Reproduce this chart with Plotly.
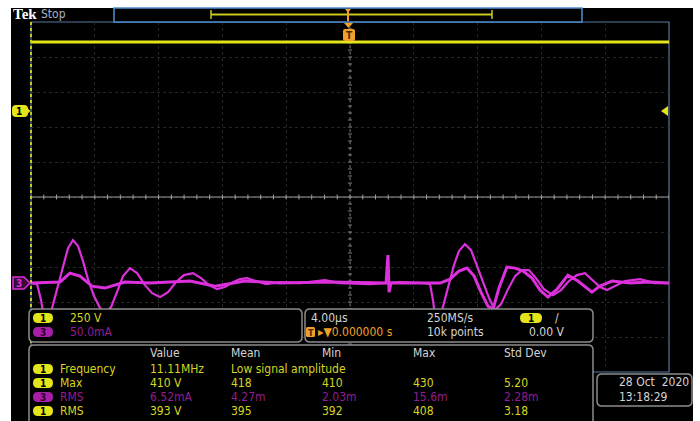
import numpy as np
import plotly.graph_objects as go

W, H = 700, 421

# ---------------- data ----------------
# Channel 1 (yellow), volts
ch1_time_us = [-20, -16, -12, -8, -4, 0, 4, 8, 12, 16, 20]
ch1_volts = [492, 492, 492, 492, 492, 492, 492, 492, 492, 492, 492]

# Channel 3 (magenta), acquisition A, mA
ch3a_time_us = [-20.0, -19.62, -19.37, -19.06, -18.68, -18.31, -18.0, -17.68, -17.37, -17.05,
                -16.74, -16.43, -16.05, -15.67, -15.36, -14.98, -14.61, -14.23, -13.79, -13.35,
                -12.85, -12.41, -11.91, -11.41, -10.91, -10.41, -9.84, -9.34, -8.84, -8.34,
                -7.84, -7.34, -6.90, -6.46, -5.89, -5.27, -4.39, -3.13, -1.57, -0.63,
                1.25, 3.14, 4.70, 5.02, 5.20, 5.45, 5.77, 6.15, 6.52, 6.83,
                7.21, 7.59, 7.96, 8.34, 8.72, 9.09, 9.47, 9.91, 10.35, 10.78,
                11.22, 11.66, 12.16, 12.73, 13.23, 13.73, 14.23, 14.73, 15.24, 15.68,
                16.11, 16.61, 17.24, 18.18, 19.12, 20.0]
ch3a_mA = [0, -1.4, -24.3, -67, -35.7, -2.9, 25.7, 50, 61.4, 52.9,
           31.4, 5.7, -18.6, -35.7, -42.9, -34.3, -12.9, 10, 21.4, 14.3,
           -2.9, -14.3, -20, -12.9, 1.4, 11.4, 14.3, 7.1, -2.9, -8.6,
           -5.7, 1.4, 5.7, 7.1, 2.9, -1.4, 1.4, 0, 4.3, 0,
           -1.4, 1.4, 0, -1.4, -24.3, -67, -38.6, -7.1, 25.7, 45.7,
           55.7, 47.1, 24.3, 0, -21.4, -38.6, -30, -8.6, 10, 18.6,
           18.6, 7.1, -8.6, -17.1, -10, 2.9, 11.4, 14.3, 4.3, -5.7,
           -10, -4.3, 2.9, 5.7, 0, 0]

# Channel 3 (magenta), acquisition B, mA
ch3b_time_us = [-20.0, -18.18, -17.56, -16.93, -16.18, -15.36, -14.11, -12.54, -10.03, -8.47,
                -6.58, -4.39, -1.25, 2.26, 2.38, 2.45, 2.57, 5.65, 6.27, 6.83,
                7.34, 7.78, 8.21, 8.65, 8.97, 9.34, 9.84, 10.35, 10.85, 11.41,
                11.91, 12.41, 12.98, 13.66, 14.29, 14.73, 15.17, 15.67, 16.43, 17.55,
                18.81, 20.0]
ch3b_mA = [0, 1.4, 14.3, 10, -4.3, -7.1, 1.4, 0, 2.9, -4.3,
           2.9, 0, 1.4, 0, 40, -12.9, 0, 0, 5.7, 17.1,
           21.4, 10, -12.9, -32.9, -37.1, -7.1, 22.9, 21.4, 17.1, 7.1,
           -10, -20, -8.6, 11.4, 2.9, -5.7, -12.9, -4.3, 2.9, 0,
           1.4, 0]

CH1_SCALE = 250.0   # V/div
CH3_SCALE = 50.0    # mA/div
CH1_POS = 2.46      # div
CH3_POS = -2.46     # div

ch1_scale_label = "250 V"
ch3_scale_label = "50.0mA"
timebase_label = "4.00µs"
sample_rate_label = "250MS/s"
record_label = "10k points"
trig_pos_label = "▸▼0.000000 s"
trig_level_label = "0.00 V"
date_label = "28 Oct  2020"
time_label = "13:18:29"

meas_headers = ["Value", "Mean", "Min", "Max", "Std Dev"]
meas_channels = ["1", "1", "3", "1"]
meas_names = ["Frequency", "Max", "RMS", "RMS"]
meas_value = ["11.11MHz", "410 V", "6.52mA", "393 V"]
meas_mean = ["Low signal amplitude", "418", "4.27m", "395"]
meas_min = ["", "410", "2.03m", "392"]
meas_max = ["", "430", "15.6m", "408"]
meas_std = ["", "5.20", "2.28m", "3.18"]

# ---------------- style ----------------
YEL = "#e4e41a"
YEL_TXT = "#d6d622"
MAG = "#dc30dc"
MAG_TXT = "#931c93"
GRAY_TXT = "#d4d4d4"
BORDER = "#8c8c8c"
BLUE = "#4f8fcf"
ORANGE = "#f0a028"
FONT = "Liberation Sans Narrow, DejaVu Sans Condensed, Roboto Condensed, Arial Narrow, sans-serif"

GX0, GX1, GY0, GY1 = 31, 669, 22, 372  # graticule in px


def X(px):
    return px / W


def Y(py):
    return 1 - py / H


def rrect(x0, y0, x1, y1, r):
    return (f"M {X(x0 + r)},{Y(y0)} L {X(x1 - r)},{Y(y0)} Q {X(x1)},{Y(y0)} {X(x1)},{Y(y0 + r)} "
            f"L {X(x1)},{Y(y1 - r)} Q {X(x1)},{Y(y1)} {X(x1 - r)},{Y(y1)} "
            f"L {X(x0 + r)},{Y(y1)} Q {X(x0)},{Y(y1)} {X(x0)},{Y(y1 - r)} "
            f"L {X(x0)},{Y(y0 + r)} Q {X(x0)},{Y(y0)} {X(x0 + r)},{Y(y0)} Z")


def poly(pts):
    return "M " + " L ".join(f"{X(a)},{Y(b)}" for a, b in pts) + " Z"


shapes = []
annots = []


def pshape(**kw):
    d = dict(xref="paper", yref="paper")
    d.update(kw)
    shapes.append(d)


def text(px, py, s, color, size=12, anchor="left", bold=False, family=FONT):
    annots.append(dict(xref="paper", yref="paper", x=X(px), y=Y(py), text=(f"<b>{s}</b>" if bold else s),
                       showarrow=False, xanchor=anchor, yanchor="middle",
                       font=dict(family=family, size=size, color=color)))


def badge(x0, y0, x1, y1, label, fill, tcolor):
    pshape(type="path", path=rrect(x0, y0, x1, y1, (y1 - y0) / 2), fillcolor=fill, line=dict(width=0), layer="above")
    text((x0 + x1) / 2, (y0 + y1) / 2 + 0.5, label, tcolor, size=10, anchor="center", bold=True)


# black screen
pshape(type="rect", x0=X(11), x1=X(693), y0=Y(8), y1=Y(H + 5), fillcolor="#000000", line=dict(width=0), layer="below")
# graticule border
pshape(type="rect", x0=X(GX0), x1=X(GX1), y0=Y(GY0), y1=Y(GY1), line=dict(color="#56789e", width=1.2), layer="below")

fig = go.Figure()

# ---------------- traces ----------------
ch1_y = [CH1_POS + v / CH1_SCALE for v in ch1_volts]
ch3a_y = [CH3_POS + v / CH3_SCALE for v in ch3a_mA]
ch3b_y = [CH3_POS + v / CH3_SCALE for v in ch3b_mA]

fig.add_trace(go.Scatter(x=ch3b_time_us, y=ch3b_y, mode="lines", line=dict(color=MAG, width=3), hoverinfo="skip"))
fig.add_trace(go.Scatter(x=ch3a_time_us, y=ch3a_y, mode="lines", line=dict(color=MAG, width=2.2), hoverinfo="skip"))
fig.add_trace(go.Scatter(x=ch1_time_us, y=ch1_y, mode="lines", line=dict(color=YEL, width=2.8), hoverinfo="skip"))

# center cross lines with minor ticks (data coords)
shapes.append(dict(type="line", xref="x", yref="y", x0=-20, x1=20, y0=0, y1=0,
                   line=dict(color="#a0a0a0", width=1), layer="between"))
shapes.append(dict(type="line", xref="x", yref="y", x0=0, x1=0, y0=-5, y1=5,
                   line=dict(color="#6a6a6a", width=1, dash="dot"), layer="between"))
for tx in np.arange(-20, 20.01, 0.8):
    shapes.append(dict(type="line", xref="x", yref="y", x0=tx, x1=tx, y0=-0.07, y1=0.07,
                       line=dict(color="#a0a0a0", width=1), layer="between"))
for ty in np.arange(-5, 5.01, 0.2):
    shapes.append(dict(type="line", xref="x", yref="y", x0=-0.13, x1=0.13, y0=ty, y1=ty,
                       line=dict(color="#7a7a7a", width=1), layer="between"))

# left yellow dotted edge
pshape(type="line", x0=X(GX0), x1=X(GX0), y0=Y(GY0), y1=Y(GY1), line=dict(color="#c8c81e", width=2, dash="dot"), layer="above")

# ---------------- header ----------------
text(11, 14, "Tek", "#ffffff", size=15, bold=True, family="Liberation Serif, DejaVu Serif, serif")
text(39, 14, "Stop", "#aab4c4", size=12)
pshape(type="rect", x0=X(114), x1=X(582), y0=Y(8), y1=Y(22), fillcolor="#000000", line=dict(color=BLUE, width=1.5), layer="above")
pshape(type="line", x0=X(211), x1=X(492), y0=Y(14.5), y1=Y(14.5), line=dict(color="#c8c81e", width=2), layer="above")
pshape(type="line", x0=X(211), x1=X(211), y0=Y(10), y1=Y(19), line=dict(color="#c8c81e", width=1.5), layer="above")
pshape(type="line", x0=X(492), x1=X(492), y0=Y(10), y1=Y(19), line=dict(color="#c8c81e", width=1.5), layer="above")
pshape(type="line", x0=X(348), x1=X(348), y0=Y(9), y1=Y(21), line=dict(color=ORANGE, width=2), layer="above")
pshape(type="path", path=poly([(345, 9), (351, 9), (348, 13)]), fillcolor=ORANGE, line=dict(width=0), layer="above")
# trigger position marker on graticule
pshape(type="path", path=poly([(344, 23), (353, 23), (348.5, 28)]), fillcolor=ORANGE, line=dict(width=0), layer="above")
pshape(type="path", path=rrect(343, 29, 355, 41, 2), fillcolor=ORANGE, line=dict(width=0), layer="above")
text(349, 35.5, "T", "#4a2a00", size=10, anchor="center", bold=True)

# channel markers on left
pshape(type="path", path=rrect(12, 105, 28, 117, 4), fillcolor=YEL, line=dict(width=0), layer="above")
pshape(type="path", path=poly([(24, 105), (30.5, 111), (24, 117)]), fillcolor=YEL, line=dict(width=0), layer="above")
text(19, 111.5, "1", "#000000", size=10, anchor="center", bold=True)
pshape(type="path", path=poly([(13, 277), (24, 277), (30, 283), (24, 289), (13, 289)]), fillcolor="#3a0a3a",
       line=dict(color=MAG, width=1.5), layer="above")
text(19, 283.5, "3", MAG, size=10, anchor="center", bold=True)
# trigger level arrow on right
pshape(type="path", path=poly([(668, 106), (668, 116), (661, 111)]), fillcolor=YEL, line=dict(width=0), layer="above")

# ---------------- panels ----------------
pshape(type="path", path=rrect(29, 309, 302, 342, 5), fillcolor="#000000", line=dict(color=BORDER, width=1.5), layer="above")
pshape(type="path", path=rrect(305, 309, 593, 342, 5), fillcolor="#000000", line=dict(color=BORDER, width=1.5), layer="above")
pshape(type="path", path=rrect(29, 345, 593, 430, 5), fillcolor="#000000", line=dict(color=BORDER, width=1.5), layer="above")
pshape(type="path", path=rrect(597, 374, 692, 406, 5), fillcolor="#000000", line=dict(color=BORDER, width=1.5), layer="above")

# channel panel
badge(33, 313, 53, 323, "1", YEL, "#000000")
text(68, 318, ch1_scale_label, YEL_TXT)
badge(33, 327, 53, 337, "3", "#a81ea8", "#2a002a")
text(68, 332, ch3_scale_label, MAG_TXT)

# timebase / trigger panel
text(309, 318, timebase_label, GRAY_TXT)
text(425, 318, sample_rate_label, GRAY_TXT)
badge(520, 313, 542, 323, "1", YEL, "#000000")
text(553, 318, "/", GRAY_TXT)
pshape(type="path", path=rrect(306, 327, 315, 337, 1.5), fillcolor=ORANGE, line=dict(width=0), layer="above")
text(310.5, 332.5, "T", "#4a2a00", size=9, anchor="center", bold=True)
text(316, 332, trig_pos_label, ORANGE)
text(425, 332, record_label, GRAY_TXT)
text(527, 332, trig_level_label, GRAY_TXT)

# measurement table
col_x = [148, 229, 320, 411, 502]
for cx, h in zip(col_x, meas_headers):
    text(cx, 353, h, GRAY_TXT)
row_y = [369, 383, 397, 411]
for i, ry in enumerate(row_y):
    ch = meas_channels[i]
    col = YEL_TXT if ch == "1" else MAG_TXT
    if ch == "1":
        badge(33, ry - 5, 53, ry + 5, ch, YEL, "#000000")
    else:
        badge(33, ry - 5, 53, ry + 5, ch, "#a81ea8", "#2a002a")
    text(58, ry, meas_names[i], col)
    for cx, vals in zip(col_x, [meas_value, meas_mean, meas_min, meas_max, meas_std]):
        if vals[i]:
            text(cx, ry, vals[i], col)

# date panel
text(617, 382, date_label, GRAY_TXT)
text(617, 397, time_label, GRAY_TXT)

fig.update_layout(
    width=W, height=H,
    margin=dict(l=0, r=0, t=0, b=0, pad=0),
    paper_bgcolor="#ffffff",
    plot_bgcolor="rgba(0,0,0,0)",
    showlegend=False,
    shapes=shapes,
    annotations=annots,
    xaxis=dict(domain=[X(GX0), X(GX1)], range=[-20, 20], dtick=4, tick0=-20,
               showgrid=True, gridcolor="#262626", griddash="dot", gridwidth=1,
               zeroline=False, showticklabels=False, ticks="", showline=False, fixedrange=True),
    yaxis=dict(domain=[1 - GY1 / H, 1 - GY0 / H], range=[-5, 5], dtick=1, tick0=-5,
               showgrid=True, gridcolor="#262626", griddash="dot", gridwidth=1,
               zeroline=False, showticklabels=False, ticks="", showline=False, fixedrange=True),
)

fig.write_html("out.html", config={"staticPlot": True},
               post_script="document.body.style.margin='0';document.body.style.padding='0';"
                           "document.documentElement.style.overflow='hidden';")
